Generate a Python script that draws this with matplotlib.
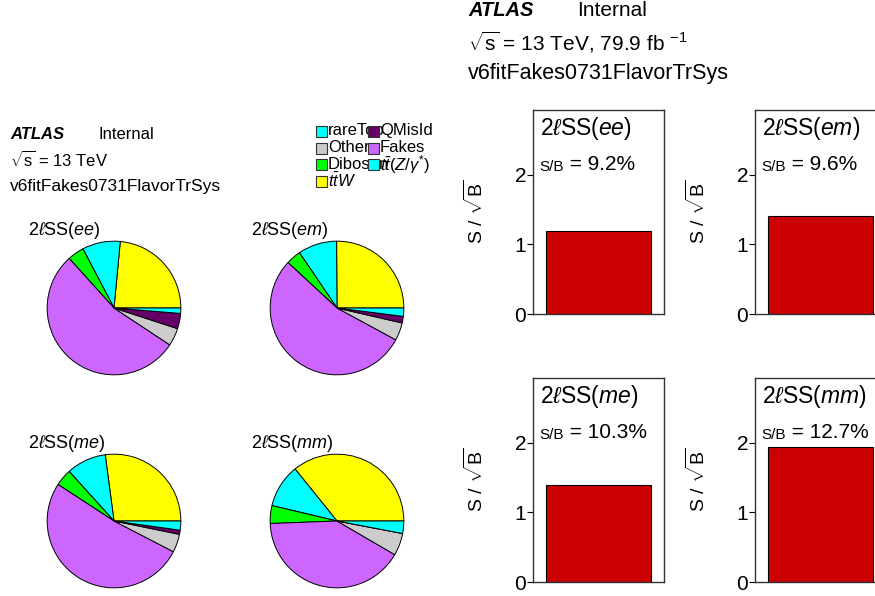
import matplotlib
matplotlib.use('Agg')
import matplotlib.pyplot as plt
from matplotlib.patches import Rectangle

plt.rcParams['font.family'] = ['Liberation Sans', 'DejaVu Sans']
plt.rcParams['mathtext.fontset'] = 'custom'
plt.rcParams['mathtext.rm'] = 'Liberation Sans'
plt.rcParams['mathtext.it'] = 'Liberation Sans:italic'
plt.rcParams['mathtext.bf'] = 'Liberation Sans:bold'

W, H = 875, 596

# pie slices, counter-clockwise from 3 o'clock
samples = ['ttW', 'ttZ', 'Diboson', 'Fakes', 'Other', 'QMisId', 'rareTop']
sample_colors = ['#FFFF00', '#00FFFF', '#00FF00', '#CC66FF', '#CCCCCC', '#660066', '#00FFFF']
regions = ['ee', 'em', 'me', 'mm']
fractions = {
    'ee': [23.5, 9.2, 4.0, 54.0, 4.3, 3.7, 1.3],
    'em': [25.1, 9.4, 3.6, 54.0, 4.3, 1.6, 2.0],
    'me': [27.1, 9.6, 4.1, 51.6, 4.4, 1.0, 2.2],
    'mm': [35.8, 10.5, 4.3, 41.0, 5.4, 0.0, 3.0],
}
s_over_sqrtb = [1.19, 1.41, 1.39, 1.94]
s_over_b = ['9.2%', '9.6%', '10.3%', '12.7%']

legend_labels = ['rareTop', 'QMisId', 'Other', 'Fakes', 'Diboson',
                 r'$t\bar{t}(Z/\gamma^{*})$', r'$t\bar{t}W$']
legend_colors = ['#00FFFF', '#660066', '#CCCCCC', '#CC66FF', '#00FF00', '#00FFFF', '#FFFF00']


def px(x0, y0, x1, y1):
    return [x0 / W, 1 - y1 / H, (x1 - x0) / W, (y1 - y0) / H]


def region_label(r):
    return r'2$\ell$SS($%s$)' % r


fig = plt.figure(figsize=(W / 100, H / 100), dpi=100)

# left header
fig.text(10 / W, 1 - 134 / H, 'ATLAS', fontsize=12, fontweight='bold', fontstyle='italic', va='center')
fig.text(98 / W, 1 - 134 / H, 'Internal', fontsize=12, va='center')
fig.text(10 / W, 1 - 160 / H, r'$\sqrt{\mathrm{s}}$ = 13 TeV', fontsize=12, va='center')
fig.text(10 / W, 1 - 186 / H, 'v6fitFakes0731FlavorTrSys', fontsize=12.5, va='center')

# top header
fig.text(468 / W, 1 - 10 / H, 'ATLAS', fontsize=14.5, fontweight='bold', fontstyle='italic', va='center')
fig.text(577 / W, 1 - 10 / H, 'Internal', fontsize=15, va='center')
fig.text(468 / W, 1 - 42 / H, r'$\sqrt{\mathrm{s}}$ = 13 TeV, 79.9 fb $^{-1}$', fontsize=15, va='center')
fig.text(468 / W, 1 - 73 / H, 'v6fitFakes0731FlavorTrSys', fontsize=15.5, va='center')

# legend drawn by hand (ROOT-like overlapping columns)
for i, (lab, col) in enumerate(zip(legend_labels, legend_colors)):
    c, r = i % 2, i // 2
    bx = 316 + 52 * c
    cy = 131 + 16.7 * r
    fig.text((bx + 12) / W, 1 - cy / H, lab, fontsize=12, va='center', zorder=2 + 2 * c)
    fig.add_artist(Rectangle(((bx) / W, 1 - (cy + 6) / H), 11 / W, 11 / H,
                             facecolor=col, edgecolor='#333333', lw=0.8,
                             transform=fig.transFigure, zorder=3 + 2 * c))

# pies
pie_centers = [(114, 308), (337, 308), (114, 521), (337, 521)]
R = 67.5
for reg, (cx, cy) in zip(regions, pie_centers):
    ax = fig.add_axes(px(cx - R, cy - R, cx + R, cy + R))
    ax.pie(fractions[reg], colors=sample_colors, startangle=0, counterclock=True,
           wedgeprops=dict(edgecolor='black', linewidth=0.7))
    ax.set_xlim(-1.01, 1.01)
    ax.set_ylim(-1.01, 1.01)
    ax.set_aspect('equal')
    ax.axis('off')
    fig.text((cx - 86) / W, 1 - (cy - 78) / H, region_label(reg), fontsize=13, va='center')

# S/sqrt(B) bars
bar_boxes = [(533, 110, 664, 314), (755, 110, 886, 314),
             (533, 378, 664, 582), (755, 378, 886, 582)]
for reg, val, sb, box in zip(regions, s_over_sqrtb, s_over_b, bar_boxes):
    ax = fig.add_axes(px(*box))
    ax.bar([0], [val], width=0.8, color='#CC0000', edgecolor='black', linewidth=0.8)
    ax.set_xlim(-0.5, 0.5)
    ax.set_ylim(0, 2.93)
    ax.set_xticks([])
    ax.set_yticks([0, 1, 2])
    ax.tick_params(axis='y', labelsize=15, length=4, width=0.8, direction='out', pad=1)
    for s in ax.spines.values():
        s.set_linewidth(1.0)
        s.set_color('#333333')
    ax.set_ylabel(r'S / $\sqrt{\mathrm{B}}$', fontsize=14, labelpad=20)
    ax.text(0.05, 0.91, region_label(reg), transform=ax.transAxes, fontsize=16.5, va='center')
    t1 = ax.text(0.05, 0.70, 'S/B', transform=ax.transAxes, fontsize=11, va='baseline')
    ax.annotate(' = ' + sb, xy=(1, 0), xycoords=t1, fontsize=15, va='bottom')

fig.savefig('out.png', dpi=100)
